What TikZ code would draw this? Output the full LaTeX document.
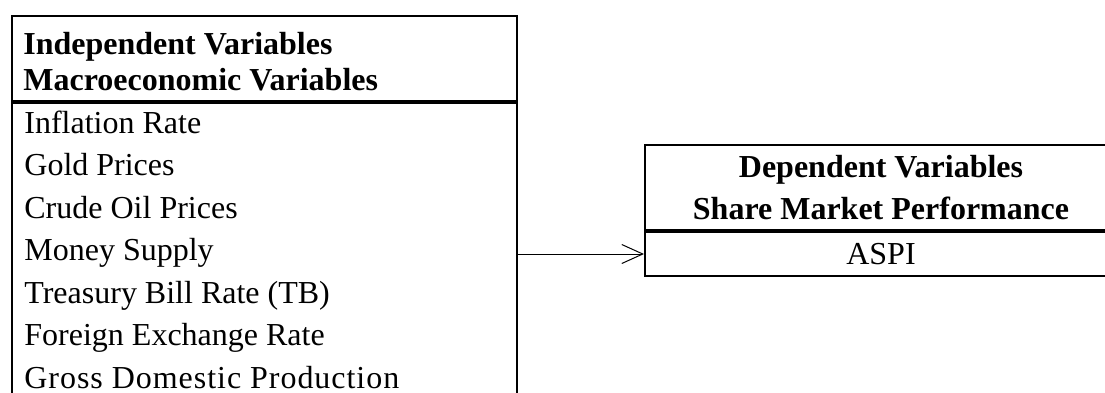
\documentclass[tikz,border=0pt]{standalone}
\usepackage{fontspec}
\setmainfont{Liberation Serif}
\usetikzlibrary{arrows.meta,positioning}

\tikzset{
    box/.style={draw, line width=1pt, inner sep=0pt},
    headtext/.style={font=\fontsize{16}{21.3}\selectfont\bfseries, inner sep=0pt},
    itemtext/.style={font=\fontsize{16}{21.3}\selectfont, inner sep=0pt, anchor=base west},
    link/.style={line width=0.5pt, -{Straight Barb[length=10.5pt,width=9.5pt]}}
}

\begin{document}
\begin{tikzpicture}[x=1pt, y=1pt]
    \path[use as bounding box, clip] (0,0) rectangle (552.5,-196);

    % independent variables
    \node [box, anchor=north west, minimum width=252.5pt, minimum height=42.5pt] (indhead) at (5.5,-7.5) {};
    \node [box, below=0pt of indhead, minimum width=252.5pt, minimum height=160pt] (indbody) {};
    \node [headtext, anchor=base west] (indtitle) at (11.5,-27.2) {Independent Variables};
    \node [headtext, anchor=base west] (indsub) at ([yshift=-18.2pt]indtitle.base west) {Macroeconomic Variables};

    \node [itemtext] (inflation) at (12,-66.5) {Inflation Rate};
    \node [itemtext] (gold) at ([yshift=-21.25pt]inflation.base west) {Gold Prices};
    \node [itemtext] (oil) at ([yshift=-21.25pt]gold.base west) {Crude Oil Prices};
    \node [itemtext] (money) at ([yshift=-21.25pt]oil.base west) {Money Supply};
    \node [itemtext] (tbill) at ([yshift=-21.25pt]money.base west) {Treasury Bill Rate (TB)};
    \node [itemtext] (forex) at ([yshift=-21.25pt]tbill.base west) {Foreign Exchange Rate};
    \node [itemtext] (gdp) at ([yshift=-21.25pt]forex.base west) {\addfontfeature{LetterSpace=3}Gross Domestic Production};

    % dependent variables
    \node [box, headtext, align=center, anchor=north west, minimum width=236pt, minimum height=42.5pt] (dephead) at (322,-72)
        {Dependent Variables\\Share Market Performance};
    \node [box, below=0pt of dephead, minimum width=236pt, minimum height=22pt,
        font=\fontsize{16}{21.3}\selectfont] (aspi) {ASPI};

    \draw [link] (indbody.east |- aspi.west) -- (aspi.west);
\end{tikzpicture}
\end{document}
